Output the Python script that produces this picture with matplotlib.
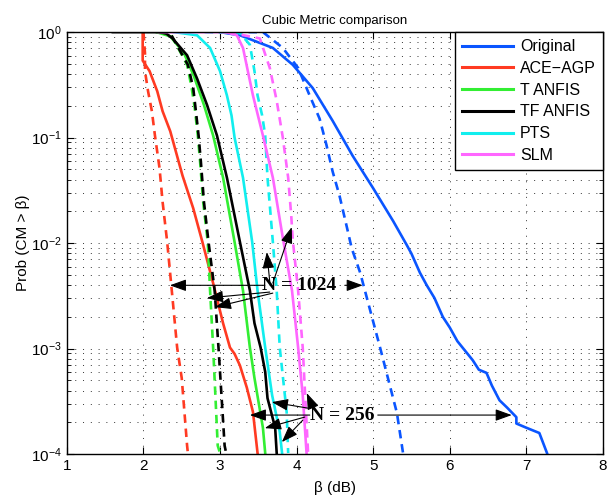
import numpy as np
import matplotlib
matplotlib.use("Agg")
import matplotlib.pyplot as plt

plt.rcParams["font.family"] = ["Liberation Sans", "DejaVu Sans"]
plt.rcParams["mathtext.fontset"] = "custom"
plt.rcParams["mathtext.rm"] = "Liberation Sans"
plt.rcParams["mathtext.it"] = "Liberation Sans:italic"

# beta (dB) and log10(Prob(CM > beta))
orig_x_256 = [3.0, 3.26, 3.69, 3.95, 4.21, 4.47, 4.73, 5.0, 5.26, 5.44, 5.5, 5.61, 5.7, 5.8, 5.91,
              6.0, 6.1, 6.2, 6.3, 6.38, 6.48, 6.55, 6.65, 6.75, 6.87, 6.87, 7.0, 7.17, 7.27]
orig_lg_256 = [0, -0.03, -0.15, -0.31, -0.53, -0.84, -1.17, -1.48, -1.79, -2.02, -2.10, -2.28, -2.40,
               -2.52, -2.70, -2.80, -2.93, -3.02, -3.11, -3.20, -3.23, -3.35, -3.49, -3.56, -3.65,
               -3.71, -3.75, -3.80, -3.99]
orig_x_1024 = [3.0, 3.56, 3.82, 4.02, 4.17, 4.30, 4.39, 4.47, 4.56, 4.66, 4.72, 4.83, 5.09, 5.31, 5.39]
orig_lg_1024 = [0, 0, -0.15, -0.34, -0.60, -0.82, -1.07, -1.32, -1.55, -1.86, -2.05, -2.28, -2.99, -3.61, -3.99]

ace_x_256 = [1.99, 1.99, 2.08, 2.18, 2.25, 2.35, 2.51, 2.65, 2.77, 2.91, 3.04, 3.13, 3.19, 3.26, 3.35, 3.43, 3.49]
ace_lg_256 = [0, -0.27, -0.37, -0.56, -0.75, -0.94, -1.36, -1.67, -1.99, -2.38, -2.76, -2.99, -3.05,
              -3.16, -3.37, -3.60, -3.99]
ace_x_1024 = [2.0, 2.02, 2.02, 2.06, 2.11, 2.15, 2.21, 2.25, 2.31, 2.37, 2.44, 2.50, 2.57, 2.58]
ace_lg_1024 = [0, -0.2, -0.37, -0.56, -0.75, -0.98, -1.29, -1.61, -1.99, -2.45, -2.99, -3.28, -3.92, -3.99]

t_x_256 = [2.17, 2.35, 2.53, 2.66, 2.79, 2.91, 3.04, 3.19, 3.30, 3.39, 3.45, 3.56, 3.59]
t_lg_256 = [0, -0.04, -0.20, -0.42, -0.69, -0.98, -1.38, -1.99, -2.45, -2.99, -3.28, -3.75, -3.99]
t_x_1024 = [2.2, 2.35, 2.57, 2.63, 2.67, 2.71, 2.74, 2.78, 2.84, 2.87, 2.91, 2.97, 3.0]
t_lg_1024 = [0, -0.01, -0.31, -0.53, -0.72, -0.98, -1.23, -1.61, -1.99, -2.45, -2.99, -3.92, -3.99]

tf_x_256 = [1.6, 2.21, 2.30, 2.38, 2.57, 2.70, 2.83, 2.96, 3.09, 3.26, 3.39, 3.45, 3.53, 3.59, 3.62, 3.72, 3.74]
tf_lg_256 = [0, 0, -0.015, -0.06, -0.22, -0.44, -0.69, -0.98, -1.38, -1.99, -2.45, -2.76, -2.99,
             -3.22, -3.47, -3.75, -3.99]
tf_x_1024 = [2.2, 2.35, 2.58, 2.65, 2.68, 2.72, 2.75, 2.79, 2.85, 2.93, 2.98, 3.06, 3.08]
tf_lg_1024 = [0, -0.01, -0.31, -0.53, -0.72, -0.98, -1.23, -1.61, -1.99, -2.45, -2.99, -3.92, -3.99]

pts_x_256 = [2.4, 2.70, 2.87, 3.00, 3.09, 3.15, 3.19, 3.30, 3.42, 3.49, 3.59, 3.68, 3.78, 3.81]
pts_lg_256 = [0, -0.03, -0.15, -0.37, -0.60, -0.79, -1.0, -1.38, -1.99, -2.45, -2.99, -3.44, -3.79, -3.99]
pts_x_1024 = [2.8, 3.26, 3.39, 3.45, 3.49, 3.55, 3.59, 3.62, 3.69, 3.74, 3.78, 3.87, 3.89]
pts_lg_1024 = [0, -0.01, -0.12, -0.37, -0.60, -0.79, -0.98, -1.38, -1.99, -2.45, -2.99, -3.60, -3.99]

slm_x_256 = [2.2, 3.0, 3.1, 3.22, 3.30, 3.43, 3.56, 3.69, 3.82, 3.94, 4.02, 4.08, 4.13]
slm_lg_256 = [0, 0, -0.005, -0.03, -0.15, -0.60, -0.98, -1.38, -1.95, -2.45, -2.99, -3.44, -3.99]
slm_x_1024 = [3.1, 3.52, 3.65, 3.74, 3.82, 3.89, 3.93, 3.95, 4.02, 4.08, 4.15]
slm_lg_1024 = [0, -0.06, -0.34, -0.65, -1.0, -1.38, -1.74, -1.97, -2.45, -2.99, -3.99]

labels = ["Original", "ACE\u2212AGP", "T ANFIS", "TF ANFIS", "PTS", "SLM"]
colors = ["#0a55ff", "#ff3a22", "#33ee33", "#000000", "#11eeee", "#ff66ff"]
solid = [(orig_x_256, orig_lg_256), (ace_x_256, ace_lg_256), (t_x_256, t_lg_256),
         (tf_x_256, tf_lg_256), (pts_x_256, pts_lg_256), (slm_x_256, slm_lg_256)]
dashed = [(orig_x_1024, orig_lg_1024), (ace_x_1024, ace_lg_1024), (t_x_1024, t_lg_1024),
          (tf_x_1024, tf_lg_1024), (pts_x_1024, pts_lg_1024), (slm_x_1024, slm_lg_1024)]

fig = plt.figure(figsize=(6.08, 5.04), dpi=100)
ax = fig.add_axes([0.110, 0.099, 0.8816, 0.8373])

handles = []
for (xs, lg), (xd, lgd), c, lab in zip(solid, dashed, colors, labels):
    h, = ax.semilogy(xs, 10.0 ** np.array(lg), color=c, lw=1.9, label=lab)
    ax.semilogy(xd, 10.0 ** np.array(lgd), color=c, lw=1.9, linestyle=(0, (3.2, 2.2)))
    handles.append(h)

ax.set_xlim(1, 8)
ax.set_ylim(1e-4, 1)
ax.set_xticks(range(1, 9))
grid = dict(linestyle=(0, (1, 7)), color="#333333", lw=0.7)
ax.grid(True, which="major", axis="both", **grid)
ax.grid(True, which="minor", axis="y", **grid)
ax.tick_params(which="both", direction="in", top=True, right=True, labelsize=11)
ax.tick_params(which="major", length=5)
ax.tick_params(which="minor", length=3)
for s in ax.spines.values():
    s.set_linewidth(1.0)

ax.set_title("Cubic Metric comparison", fontsize=9.5, pad=6)
ax.set_xlabel("\u03b2 (dB)", fontsize=11, labelpad=6)
ax.set_ylabel("Prob (CM > \u03b2)", fontsize=11, labelpad=1)

leg = ax.legend(handles=handles, loc="upper right", bbox_to_anchor=(1, 1), borderaxespad=0,
                fancybox=False, edgecolor="black", framealpha=1, fontsize=11.5,
                handlelength=3.2, handletextpad=0.4, labelspacing=0.42, borderpad=0.45)
leg.get_frame().set_linewidth(1.0)
for l in leg.get_lines():
    l.set_linewidth(2.2)

serif = ["Liberation Serif", "DejaVu Serif"]
arrow = dict(arrowstyle="-|>,head_length=1.0,head_width=0.36", color="black", lw=0.8,
             mutation_scale=10, shrinkA=0, shrinkB=0)

ax.text(4.035, 10 ** -2.40, "N = 1024", family=serif, fontsize=14, fontweight="bold",
        ha="center", va="center")
for start, tip in [((3.585, -2.40), (2.345, -2.40)),
                   ((3.65, -2.464), (2.828, -2.521)),
                   ((3.689, -2.474), (2.932, -2.607)),
                   ((3.65, -2.37), (3.611, -2.085)),
                   ((3.689, -2.379), (3.937, -1.848)),
                   ((4.629, -2.40), (4.864, -2.40))]:
    ax.annotate("", xy=(tip[0], 10 ** tip[1]), xytext=(start[0], 10 ** start[1]), arrowprops=arrow)

ax.text(4.59, 10 ** -3.63, "N = 256", family=serif, fontsize=14, fontweight="bold",
        ha="center", va="center")
for start, tip in [((4.172, -3.63), (3.389, -3.63)),
                   ((4.146, -3.564), (3.676, -3.507)),
                   ((4.107, -3.649), (3.585, -3.754)),
                   ((4.081, -3.678), (3.807, -3.886)),
                   ((4.211, -3.555), (4.133, -3.422)),
                   ((5.06, -3.63), (6.81, -3.63))]:
    ax.annotate("", xy=(tip[0], 10 ** tip[1]), xytext=(start[0], 10 ** start[1]), arrowprops=arrow)

fig.savefig("out.png", dpi=100)
